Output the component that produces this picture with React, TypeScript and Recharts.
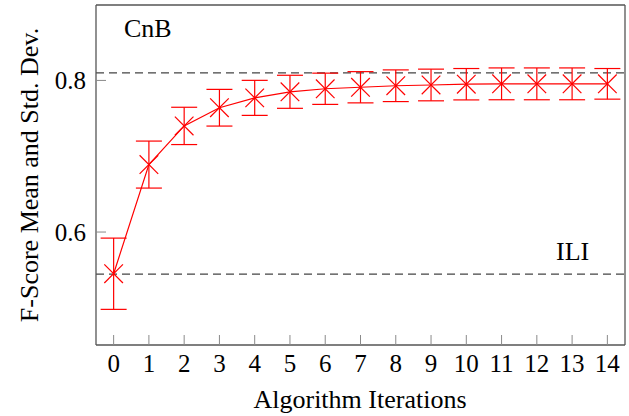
import React from 'react';
import { ComposedChart, Line, XAxis, YAxis, ErrorBar, ReferenceLine } from 'recharts';

// iterations on the x axis
const iterations = [0, 1, 2, 3, 4, 5, 6, 7, 8, 9, 10, 11, 12, 13, 14];
// mean F-score per iteration
const meanScores = [0.545, 0.689, 0.74, 0.764, 0.777, 0.785, 0.789, 0.791, 0.793, 0.794, 0.795, 0.7955, 0.7955, 0.7955, 0.7955];
// standard deviation per iteration
const stdDevs = [0.047, 0.031, 0.0246, 0.0242, 0.0231, 0.0218, 0.0206, 0.0206, 0.0209, 0.0209, 0.0207, 0.021, 0.021, 0.021, 0.0202];
const yTicks = [0.6, 0.8];
// baselines (dashed)
const cnbScore = 0.81;
const iliScore = 0.5446;

const data = iterations.map((it, i) => ({ iter: it, mean: meanScores[i], std: stdDevs[i] }));

const RED = '#ff0000';
const FRAME = '#555555';
const TICK = '#8a8a8a';

function CrossMark(props: any) {
  const { cx, cy } = props;
  if (cx == null || cy == null) return null;
  const s = 9.3;
  return (
    <g>
      <line x1={cx - s} y1={cy - s} x2={cx + s} y2={cy + s} stroke={RED} strokeWidth={1.2} />
      <line x1={cx - s} y1={cy + s} x2={cx + s} y2={cy - s} stroke={RED} strokeWidth={1.2} />
    </g>
  );
}

export default function App() {
  const tickFont = { fontSize: 25, fill: '#000', fontFamily: 'Liberation Serif' };
  return (
    <div style={{ position: 'absolute', left: 0, top: 0, fontFamily: 'Liberation Serif' }}>
      <ComposedChart width={629} height={416} data={data} margin={{ top: 0, right: 0, bottom: 0, left: 0 }}>
        <XAxis
          xAxisId="b"
          dataKey="iter"
          type="number"
          domain={[-0.5, 14.5]}
          ticks={iterations}
          allowDataOverflow
          height={71}
          tickSize={-10}
          tickMargin={19}
          axisLine={{ stroke: FRAME, strokeWidth: 1.3 }}
          tickLine={{ stroke: TICK }}
          tick={tickFont}
          interval={0}
        />
        <XAxis
          xAxisId="t"
          orientation="top"
          dataKey="iter"
          type="number"
          domain={[-0.5, 14.5]}
          ticks={iterations}
          allowDataOverflow
          height={5}
          tickSize={-10}
          axisLine={{ stroke: FRAME, strokeWidth: 1.3 }}
          tickLine={{ stroke: TICK }}
          tick={false}
          interval={0}
        />
        <YAxis
          yAxisId="l"
          type="number"
          domain={[0.451, 0.8995]}
          ticks={yTicks}
          allowDataOverflow
          width={96}
          tickSize={-10}
          tickMargin={20}
          axisLine={{ stroke: FRAME, strokeWidth: 1.3 }}
          tickLine={{ stroke: TICK }}
          tick={tickFont}
          tickFormatter={(v: number) => v.toFixed(1)}
        />
        <YAxis
          yAxisId="r"
          orientation="right"
          type="number"
          domain={[0.451, 0.8995]}
          ticks={yTicks}
          allowDataOverflow
          width={4}
          tickSize={-10}
          axisLine={{ stroke: FRAME, strokeWidth: 1.3 }}
          tickLine={{ stroke: TICK }}
          tick={false}
        />
        <ReferenceLine xAxisId="b" yAxisId="l" y={cnbScore} stroke="#444" strokeWidth={1.2} strokeDasharray="8 5" />
        <ReferenceLine xAxisId="b" yAxisId="l" y={iliScore} stroke="#444" strokeWidth={1.2} strokeDasharray="8 5" />
        <Line
          xAxisId="b"
          yAxisId="l"
          dataKey="mean"
          type="linear"
          stroke={RED}
          strokeWidth={1.2}
          dot={(p: any) => <CrossMark key={p.index} {...p} />}
          activeDot={false}
          isAnimationActive={false}
        >
          <ErrorBar dataKey="std" direction="y" width={13} stroke={RED} strokeWidth={1.2} isAnimationActive={false} />
        </Line>
        <text x={124} y={37} fontSize={26} fill="#000" fontFamily="Liberation Serif">CnB</text>
        <text x={556} y={260} fontSize={26} fill="#000" fontFamily="Liberation Serif">ILI</text>
        <text x={360} y={408} fontSize={26} fill="#000" textAnchor="middle" fontFamily="Liberation Serif">
          Algorithm Iterations
        </text>
        <text
          x={38}
          y={175}
          fontSize={26}
          fill="#000"
          textAnchor="middle"
          fontFamily="Liberation Serif"
          transform="rotate(-90 38 175)"
        >
          F-Score Mean and Std. Dev.
        </text>
      </ComposedChart>
    </div>
  );
}
